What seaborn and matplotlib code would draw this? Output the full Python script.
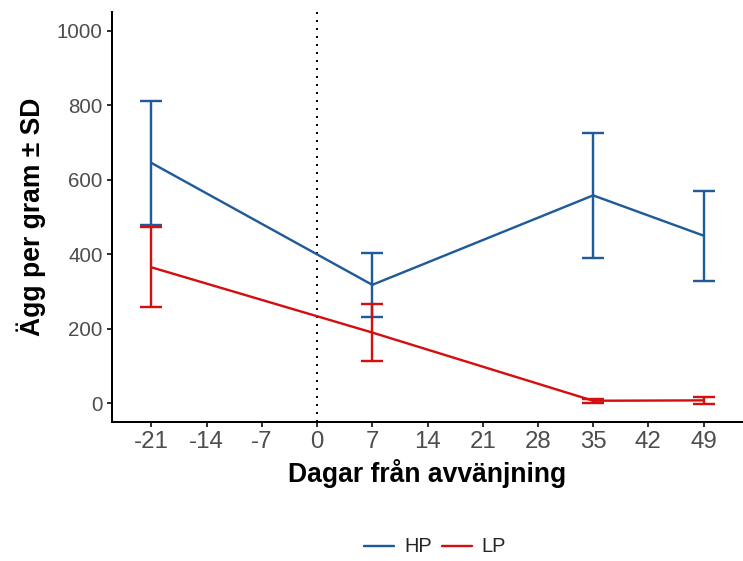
import numpy as np
import pandas as pd
import seaborn as sns
import matplotlib.pyplot as plt
from matplotlib.lines import Line2D

# data
days = [-21, 7, 35, 49]
hp_mean = [645, 318, 558, 450]
hp_sd = [166, 85, 167, 121]
lp_mean = [365, 190, 7, 8]
lp_sd = [107, 77, 6, 10]
groups = ["HP", "LP"]
colors = {"HP": "#1F5B98", "LP": "#D40F0F"}

df = pd.DataFrame({
    "dag": days * 2,
    "agg": hp_mean + lp_mean,
    "sd": hp_sd + lp_sd,
    "grupp": ["HP"] * 4 + ["LP"] * 4,
})

sns.set_theme(style="white")
plt.rcParams['font.family'] = ['Liberation Sans', 'DejaVu Sans']
plt.rcParams['axes.unicode_minus'] = False

px = 1 / 1.389  # pixel -> point at dpi 100
lw = 2.4 * px
fig = plt.figure(figsize=(7.43, 5.61), dpi=100)
ax = fig.add_axes([112 / 743, 1 - 422 / 561, 1 - 112 / 743, (422 - 12) / 561])

ax.axvline(0, color="black", ls=(0, (1, 3)), lw=2 * px, zorder=1)

sns.lineplot(data=df, x="dag", y="agg", hue="grupp", palette=colors,
             linewidth=lw, legend=False, ax=ax, zorder=3)

for g in groups:
    sub = df[df["grupp"] == g]
    ax.errorbar(sub["dag"], sub["agg"], yerr=sub["sd"], fmt="none",
                ecolor=colors[g], elinewidth=lw, capsize=11.5 * px,
                capthick=lw, zorder=3)

ax.set_xlim(-26, 54)
ax.set_ylim(-50, 1050)
ax.set_xticks(np.arange(-21, 50, 7))
ax.set_yticks([0, 200, 400, 600, 800, 1000])

for s in ["top", "right"]:
    ax.spines[s].set_visible(False)
for s in ["left", "bottom"]:
    ax.spines[s].set_color("black")
    ax.spines[s].set_linewidth(2 * px)

ax.tick_params(axis="x", length=5 * px, width=2 * px, color="#333333",
               labelsize=24 * px, labelcolor="#4D4D4D", pad=3, bottom=True)
ax.tick_params(axis="y", length=5 * px, width=2 * px, color="#333333",
               labelsize=20.5 * px, labelcolor="#4D4D4D", pad=3, left=True)

ax.set_xlabel("Dagar från avvänjning", fontsize=26.5 * px, fontweight="bold",
              color="black", labelpad=4)
ax.set_ylabel("Ägg per gram ± SD", fontsize=26.5 * px, fontweight="bold",
              color="black", labelpad=8)

handles = [Line2D([0], [0], color=colors[g], lw=lw) for g in groups]
fig.legend(handles, groups, loc="center", bbox_to_anchor=(435 / 743, 1 - 547 / 561),
           ncol=2, frameon=False, fontsize=20 * px, handlelength=1.5,
           columnspacing=0.5, handletextpad=0.5)

fig.savefig("out.png", dpi=100)
